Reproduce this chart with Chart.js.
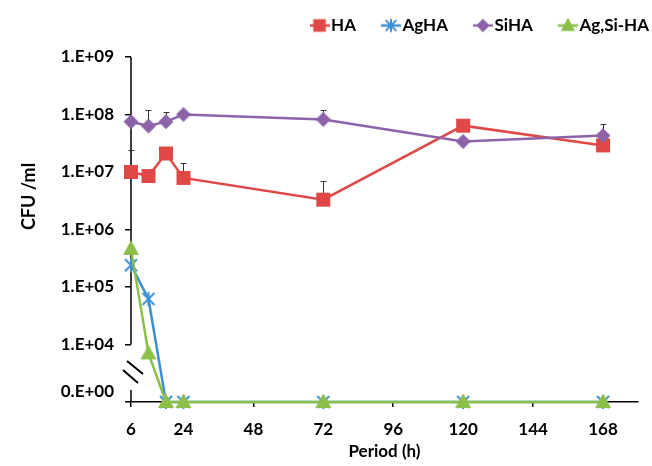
<!DOCTYPE html>
<html><head><meta charset="utf-8">
<script src="https://cdn.jsdelivr.net/npm/chart.js@4.4.1/dist/chart.umd.min.js"></script>
<style>html,body{margin:0;padding:0;background:#fff}#wrap{width:652px;height:466px;position:relative}</style>
</head><body><div id="wrap"><canvas id="c" width="652" height="466"></canvas></div>
<script>
// ---- data ----
const hours = [6, 12, 18, 24, 72, 120, 168];
const xTicks = [6, 24, 48, 72, 96, 120, 144, 168];
const yTicks = [0, 1e4, 1e5, 1e6, 1e7, 1e8, 1e9];
const yTickLabels = ['0.E+00', '1.E+04', '1.E+05', '1.E+06', '1.E+07', '1.E+08', '1.E+09'];
const seriesNames = ['HA', 'AgHA', 'SiHA', 'Ag,Si-HA'];
const ha     = [1.0e7, 8.5e6, 2.1e7, 7.9e6, 3.3e6, 6.4e7, 2.9e7];
const agha   = [2.4e5, 6.2e4, 0, 0, 0, 0, 0];
const siha   = [7.5e7, 6.3e7, 7.5e7, 1.0e8, 8.2e7, 3.4e7, 4.3e7];
const agsiha = [4.6e5, 7.0e3, 0, 0, 0, 0, 0];
const haUpper   = [2.4e7, null, null, 1.45e7, 7.1e6, null, null];
const sihaUpper = [null, 1.19e8, 1.1e8, null, 1.19e8, null, 6.8e7];

// ---- style ----
const ZERO_AT = 1e3;           // axis position used for the broken-axis zero
const FONT = {family: 'Lato, "Open Sans", sans-serif', weight: 'bold', size: 17};
const TITLE_FONT = {family: 'Lato, "Open Sans", sans-serif', weight: 'bold', size: 18};
const LEGEND_FONT = {family: 'Lato, "Open Sans", sans-serif', weight: 'bold', size: 17};
const COLORS = ['#E04848', '#3D8FD3', '#8C63A9', '#8CBF4A'];
const KINDS = ['square', 'star', 'diamond', 'triangle'];
const LEG_PAD = 32;

function drawMarker(ctx, kind, cx, cy, color, s) {
  ctx.fillStyle = color; ctx.strokeStyle = color;
  if (kind === 'square') { ctx.fillRect(cx - 7 * s, cy - 7 * s, 14 * s, 14 * s); }
  else if (kind === 'diamond') {
    const r = 7.5 * s;
    ctx.beginPath(); ctx.moveTo(cx, cy - r); ctx.lineTo(cx + r, cy); ctx.lineTo(cx, cy + r); ctx.lineTo(cx - r, cy); ctx.closePath(); ctx.fill();
  } else if (kind === 'triangle') {
    ctx.beginPath(); ctx.moveTo(cx, cy - 8.5 * s); ctx.lineTo(cx + 8 * s, cy + 6 * s); ctx.lineTo(cx - 8 * s, cy + 6 * s); ctx.closePath(); ctx.fill();
  } else if (kind === 'star') {
    const r = 6 * s;
    ctx.lineWidth = 2; ctx.lineCap = 'butt';
    ctx.beginPath();
    ctx.moveTo(cx - r, cy - r); ctx.lineTo(cx + r, cy + r);
    ctx.moveTo(cx - r, cy + r); ctx.lineTo(cx + r, cy - r);
    ctx.moveTo(cx, cy - r - 1); ctx.lineTo(cx, cy + r + 1);
    ctx.stroke();
  }
}
function makeImg(kind, color, withLine) {
  const c = document.createElement('canvas');
  c.width = withLine ? 20 : 22; c.height = 22;
  const ctx = c.getContext('2d');
  if (withLine) { ctx.strokeStyle = color; ctx.lineWidth = 2.5; ctx.beginPath(); ctx.moveTo(0, 11); ctx.lineTo(20, 11); ctx.stroke(); }
  drawMarker(ctx, kind, c.width / 2, 11, color, withLine ? 0.9 : 1);
  return c;
}
const pointImgs = KINDS.map((k, i) => makeImg(k, COLORS[i], false));
const legendImgs = KINDS.map((k, i) => makeImg(k, COLORS[i], true));

const plotY = v => (v === 0 ? ZERO_AT : v);
const allSeries = [ha, agha, siha, agsiha];
const datasets = allSeries.map((s, i) => ({
  label: seriesNames[i],
  data: hours.map((h, j) => ({x: h, y: plotY(s[j])})),
  borderColor: COLORS[i], backgroundColor: COLORS[i],
  borderWidth: 2.5, pointStyle: pointImgs[i], pointRadius: 7, pointHoverRadius: 7,
  tension: 0, clip: false, order: 3 - i
}));

const customPlugin = {
  id: 'custom',
  afterLayout(chart) {
    const lg = chart.legend;
    if (lg) {
      const dx = LEG_PAD - 3;
      lg.left += dx; lg.right += dx;
      const dy = (17 - LEG_PAD) - lg.top;
      lg.top += dy; lg.bottom = lg.top + 90;
    }
  },
  beforeDatasetsDraw(chart) {
    const {ctx, scales: {x, y}, chartArea} = chart;
    ctx.save();
    const xl = chartArea.left, y0 = y.getPixelForValue(ZERO_AT);
    ctx.strokeStyle = '#000'; ctx.lineWidth = 1.5;
    ctx.beginPath();
    ctx.moveTo(xl, y.getPixelForValue(1e9)); ctx.lineTo(xl, y.getPixelForValue(1e4));
    ctx.moveTo(xl, y0 - 12); ctx.lineTo(xl, y0);
    ctx.stroke();
    ctx.lineWidth = 2;
    ctx.beginPath();
    ctx.moveTo(xl - 4, y0 - 41); ctx.lineTo(xl + 12, y0 - 28);
    ctx.moveTo(xl - 8, y0 - 32); ctx.lineTo(xl + 7, y0 - 19);
    ctx.stroke();
    // error bars (upper)
    ctx.strokeStyle = '#333'; ctx.lineWidth = 1;
    [[ha, haUpper], [siha, sihaUpper]].forEach(([vals, ups]) => {
      ups.forEach((u, j) => {
        if (u == null) return;
        const px = Math.round(x.getPixelForValue(hours[j])) + 0.5;
        const p1 = y.getPixelForValue(vals[j]), p2 = Math.round(y.getPixelForValue(u)) + 0.5;
        ctx.beginPath(); ctx.moveTo(px, p1); ctx.lineTo(px, p2);
        ctx.moveTo(px - 3, p2); ctx.lineTo(px + 3, p2); ctx.stroke();
      });
    });
    ctx.restore();
  }
};

// y-axis title sits above the axis centre in the reference
function shiftYTitle(s) {
  if (s._titleShifted) return;
  s._titleShifted = true;
  const orig = s.drawTitle;
  s.drawTitle = function () {
    const b = this.bottom;
    this.bottom = b - 66;
    orig.call(this);
    this.bottom = b;
  };
}

new Chart(document.getElementById('c'), {
  type: 'line',
  data: {datasets},
  options: {
    responsive: false, animation: false, devicePixelRatio: 1,
    layout: {padding: {top: 0, left: 0, right: 0, bottom: 0}},
    plugins: {
      tooltip: {enabled: false},
      legend: {
        position: 'top', align: 'end', maxHeight: 40,
        labels: {
          usePointStyle: true, pointStyleWidth: 6, padding: LEG_PAD, color: '#000', font: LEGEND_FONT,
          generateLabels: () => seriesNames.map((n, i) => ({
            text: n, pointStyle: legendImgs[i], fillStyle: COLORS[i], strokeStyle: COLORS[i],
            lineWidth: 0, datasetIndex: i, fontColor: '#000', hidden: false
          })),
          sort: (a, b) => a.datasetIndex - b.datasetIndex
        }
      }
    },
    scales: {
      x: {
        type: 'linear', min: 6, max: 180,
        afterBuildTicks: s => { s.ticks = xTicks.map(v => ({value: v})); },
        ticks: {callback: v => String(v), font: FONT, color: '#000', padding: 12, maxRotation: 0, autoSkip: false},
        grid: {display: true, drawOnChartArea: false, drawTicks: true, tickLength: 5, color: '#000', lineWidth: 1.5},
        border: {display: true, color: '#000', width: 1.5},
        title: {display: true, text: 'Period (h)', font: FONT, color: '#000', padding: {top: 2, bottom: 4}},
        afterFit: s => { s.height = 64; s.paddingRight = 14; }
      },
      y: {
        type: 'logarithmic', min: ZERO_AT, max: 1e9,
        afterBuildTicks: s => { s.ticks = yTicks.map(v => ({value: plotY(v)})); },
        ticks: {
          callback: (v, i) => (yTicks[i] === 0 ? [yTickLabels[i], ''] : yTickLabels[i]),
          font: FONT, color: '#000', padding: 11, autoSkip: false
        },
        grid: {display: true, drawOnChartArea: false, drawTicks: true, tickLength: 6, color: '#000', lineWidth: 1.5},
        border: {display: false},
        title: {display: true, text: 'CFU /ml', font: TITLE_FONT, color: '#000', padding: {top: 18, bottom: 0}},
        afterFit: s => { s.width = 131; s.paddingTop = 57; shiftYTitle(s); }
      }
    }
  },
  plugins: [customPlugin]
});
</script>
</body></html>
